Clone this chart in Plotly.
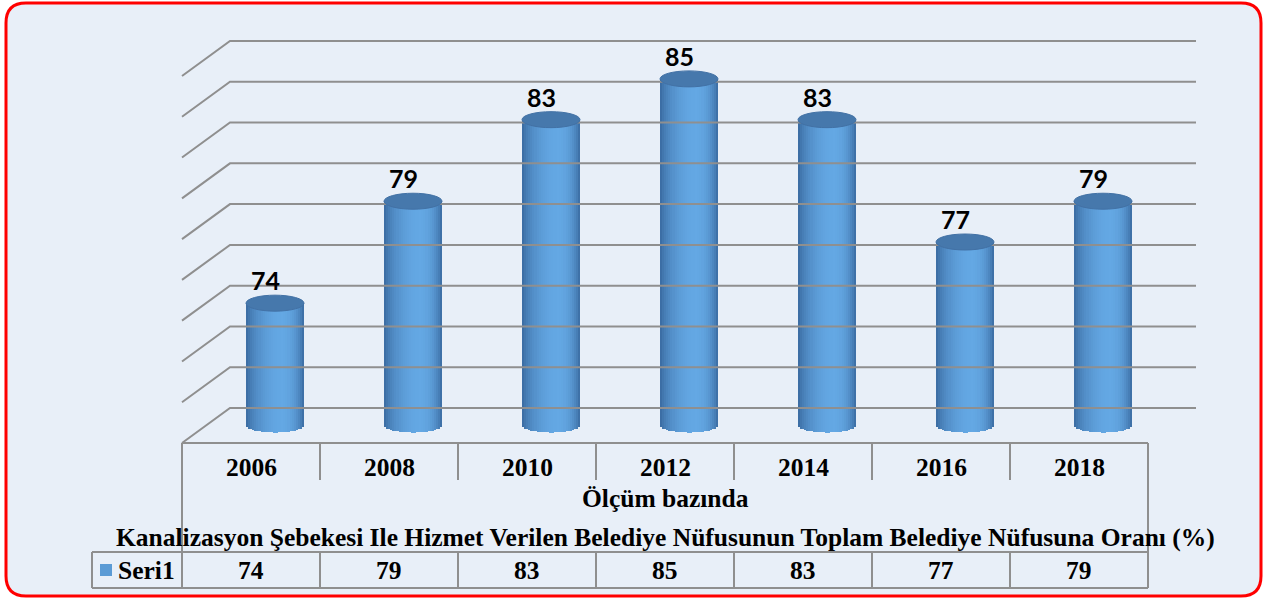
import numpy as np
import plotly.graph_objects as go

# ---------------- data ----------------
years = ["2006", "2008", "2010", "2012", "2014", "2016", "2018"]
values = [74, 79, 83, 85, 83, 77, 79]
series_name = "Seri1"
axis_title = "Ölçüm bazında"
chart_title = ("Kanalizasyon Şebekesi Ile Hizmet Verilen Belediye Nüfusunun "
               "Toplam Belediye Nüfusuna Oranı (%)")
y_min, y_max, y_step = 68, 86, 2
grid_values = list(range(y_min, y_max + 1, y_step))

# ---------------- geometry (pixels) ----------------
W, H = 1266, 599
BACK_LEFT = 230      # left end of back-wall gridlines
COL = 138            # width of one category
FLOOR_BACK = 408     # y of back floor edge (y_min)
GRID_TOP = 41        # y of top gridline (y_max)
DEPTH_DX = 48        # 3D depth offset
DEPTH_DY = 35
BAR_W = 58           # cylinder diameter
TOP_RY = 8           # half height of top ellipse
BOT_SAG = 7          # bottom arc sag
LEG_LEFT = 92
CAT_Y, ROW1_BOT = 467, 480
AX_T_Y, TITLE_Y = 498, 537
ROW3_TOP, ROW3_Y, ROW3_BOT = 552, 570, 588

GRID_COLOR = "#8f8f8f"
BG = "#e8eff8"
SERIF = "Liberation Serif"
SANS = "Lato"

ppu = (FLOOR_BACK - GRID_TOP) / (y_max - y_min)
def xv(px):
    return (px - BACK_LEFT - COL / 2) / COL
def yv(py):
    return y_min + (FLOOR_BACK - py) / ppu
def yp(py):
    return 1 - py / H

n = len(years)
DXu = DEPTH_DX / COL
DYu = DEPTH_DY / ppu
Wu = BAR_W / COL
RYu = TOP_RY / ppu
SAGu = BOT_SAG / ppu

fig = go.Figure()

# gridlines + left wall diagonals
gx, gy = [], []
for v in grid_values:
    gx += [-0.5 - DXu, -0.5, n - 0.5, None]
    gy += [v - DYu, v, v, None]
fig.add_trace(go.Scatter(x=gx, y=gy, mode="lines",
                         line=dict(color=GRID_COLOR, width=2),
                         hoverinfo="skip", showlegend=False))

# cylinders built from shaded slices
dark = np.array([56, 104, 158])
light = np.array([100, 168, 228])
N = 28
centers = [i - DXu / 2 for i in range(n)]
for k in range(N):
    t = -1 + (2 * k + 1) / N
    if t < 0.25:
        f = 1 - ((t - 0.25) / 1.25) ** 2
    else:
        f = 1 - ((t - 0.25) / 0.75) ** 2
    f = max(f, 0) ** 0.8
    c = dark + (light - dark) * f
    col = "rgb(%d,%d,%d)" % tuple(c.astype(int))
    base_k = y_min - DYu / 2 - SAGu * np.sqrt(max(1 - t * t, 0))
    fig.add_trace(go.Bar(
        x=centers,
        y=[(v - DYu / 2) - base_k for v in values],
        base=base_k,
        offset=-Wu / 2 + k * Wu / N,
        width=Wu / N * (1.25 if k < N - 1 else 1.0),
        marker=dict(color=col, line=dict(width=0)),
        hoverinfo="skip", showlegend=False))

shapes = []
# rounded red frame
L, R, T, B, rad = 6, 1261, 3, 596, 20
def P(px, py):
    return "%f,%f" % (px / W, 1 - py / H)
path = ("M " + P(L + rad, T) + " L " + P(R - rad, T) + " Q " + P(R, T) + " " + P(R, T + rad) +
        " L " + P(R, B - rad) + " Q " + P(R, B) + " " + P(R - rad, B) +
        " L " + P(L + rad, B) + " Q " + P(L, B) + " " + P(L, B - rad) +
        " L " + P(L, T + rad) + " Q " + P(L, T) + " " + P(L + rad, T) + " Z")
shapes.append(dict(type="path", xref="paper", yref="paper", path=path,
                   fillcolor=BG, line=dict(color="#ff0000", width=3), layer="below"))

# cylinder tops
for cx, v in zip(centers, values):
    top = v - DYu / 2
    shapes.append(dict(type="circle", xref="x", yref="y",
                       x0=cx - Wu / 2, x1=cx + Wu / 2, y0=top - RYu, y1=top + RYu,
                       fillcolor="#4678ac", line=dict(color="#4271a5", width=1)))

# floor front edge / table
front_left = -0.5 - DXu
front_right = n - 0.5 - DXu
leg_left = xv(LEG_LEFT)
def hline(x0, x1, py):
    return dict(type="line", xref="x", yref="paper", x0=x0, x1=x1, y0=yp(py), y1=yp(py),
                line=dict(color=GRID_COLOR, width=2))
def vline(x, py0, py1):
    return dict(type="line", xref="x", yref="paper", x0=x, x1=x, y0=yp(py0), y1=yp(py1),
                line=dict(color=GRID_COLOR, width=2))
shapes.append(hline(front_left, front_right, FLOOR_BACK + DEPTH_DY))
shapes.append(hline(leg_left, front_right, ROW3_TOP))
shapes.append(hline(leg_left, front_right, ROW3_BOT))
shapes.append(vline(leg_left, ROW3_TOP, ROW3_BOT))
for k in range(n + 1):
    xk = k - 0.5 - DXu
    if k in (0, n):
        shapes.append(vline(xk, FLOOR_BACK + DEPTH_DY, ROW3_BOT))
    else:
        shapes.append(vline(xk, FLOOR_BACK + DEPTH_DY, ROW1_BOT))
        shapes.append(vline(xk, ROW3_TOP, ROW3_BOT))

ann = []
for cx, v in zip(centers, values):
    ann.append(dict(x=cx, y=v - DYu / 2, xref="x", yref="y", text=str(v),
                    showarrow=False, xanchor="center", yanchor="bottom",
                    xshift=-10, yshift=TOP_RY - 2,
                    font=dict(family=SANS, size=25, color="black", weight="bold")))
serif_font = dict(family=SERIF, size=25.5, color="black", weight="bold")
def txt(x, py, s, xanchor="center"):
    return dict(x=x, y=yp(py), xref="x", yref="paper", text=s, showarrow=False,
                xanchor=xanchor, yanchor="middle", font=serif_font)
for i, (yr, v) in enumerate(zip(years, values)):
    ann.append(txt(i - DXu, CAT_Y, yr))
    ann.append(txt(i - DXu, ROW3_Y, str(v)))
mid = (n - 1) / 2 - DXu
ann.append(txt(mid, AX_T_Y, axis_title))
ann.append(txt(mid, TITLE_Y, chart_title))
ann.append(txt(xv(116), ROW3_Y, series_name, xanchor="left"))

# legend key
fig.add_trace(go.Scatter(x=[xv(106)], y=[yv(ROW3_Y)], mode="markers",
                         marker=dict(symbol="square", size=12, color="#5b9bd5"),
                         hoverinfo="skip", showlegend=False, cliponaxis=False))

fig.update_layout(
    width=W, height=H, margin=dict(l=0, r=0, t=0, b=0),
    paper_bgcolor="white", plot_bgcolor="rgba(0,0,0,0)",
    barmode="overlay", bargap=0, showlegend=False,
    xaxis=dict(range=[xv(0), xv(W)], visible=False, fixedrange=True, domain=[0, 1]),
    yaxis=dict(range=[yv(H), yv(0)], visible=False, fixedrange=True, domain=[0, 1]),
    shapes=shapes, annotations=ann,
)
fig.write_html("out.html", config={"displayModeBar": False},
               post_script="document.body.style.margin='0';document.body.style.overflow='hidden';")
